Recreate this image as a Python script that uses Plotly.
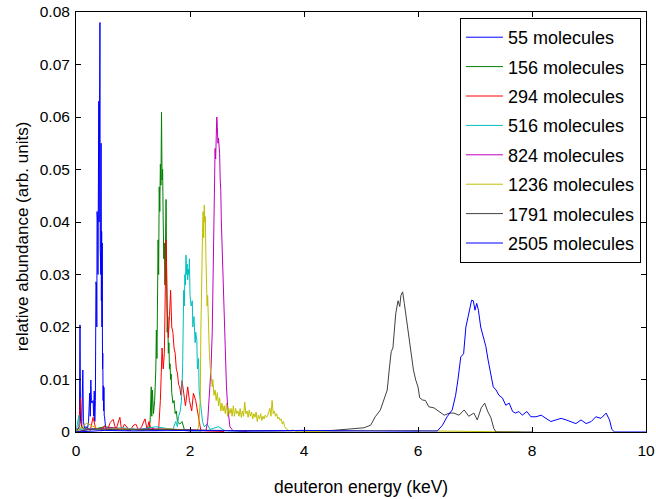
import plotly.graph_objects as go

# ---- data (energy in keV, relative abundance) ----
e_55 = [0.00, 0.03, 0.06, 0.07, 0.08, 0.10, 0.12, 0.13, 0.15, 0.18, 0.20, 0.22, 0.24, 0.25, 0.26, 0.27,
        0.28, 0.30, 0.31, 0.32, 0.33, 0.34, 0.350, 0.355, 0.360, 0.365, 0.370, 0.375, 0.380, 0.385, 0.390,
        0.395, 0.400, 0.405, 0.410, 0.415, 0.420, 0.425, 0.430, 0.435, 0.440, 0.445, 0.450, 0.455, 0.460,
        0.465, 0.470, 0.475, 0.480, 0.485, 0.490, 0.495, 0.50, 0.52, 0.55, 0.60, 0.70, 0.80, 0.90, 1.00,
        1.20, 1.40, 1.60, 1.80, 2.00, 2.50, 3.00, 4.00, 4.50, 5.00, 6.00]
a_55 = [0.0, 0.0005, 0.001, 0.0204, 0.002, 0.001, 0.0118, 0.002, 0.0008, 0.001, 0.0005, 0.002, 0.0074, 0.003,
        0.0099, 0.006, 0.0055, 0.0060, 0.003, 0.0078, 0.002, 0.0060, 0.0286, 0.0120, 0.0280, 0.0200, 0.0420,
        0.0220, 0.0400, 0.0300, 0.0500, 0.0350, 0.0630, 0.0400, 0.0550, 0.0450, 0.0780, 0.0350, 0.0500,
        0.0300, 0.0550, 0.0250, 0.0382, 0.0200, 0.0360, 0.0120, 0.0150, 0.0060, 0.0088, 0.0040, 0.0085,
        0.0030, 0.0030, 0.0008, 0.0005, 0.0006, 0.0004, 0.0007, 0.0003, 0.0005, 0.0004, 0.0003, 0.0005,
        0.0003, 0.0002, 0.0003, 0.0002, 0.0003, 0.0002, 0.0003, 0.0002]

e_156 = [0.00, 0.10, 0.30, 0.50, 0.80, 1.00, 1.20, 1.25, 1.28, 1.30, 1.32, 1.33, 1.34, 1.36, 1.38, 1.40,
         1.41, 1.42, 1.43, 1.44, 1.45, 1.46, 1.47, 1.48, 1.49, 1.50, 1.51, 1.52, 1.53, 1.54, 1.55, 1.56,
         1.57, 1.58, 1.59, 1.60, 1.61, 1.62, 1.63, 1.64, 1.65, 1.66, 1.67, 1.68, 1.70, 1.72, 1.74, 1.76,
         1.78, 1.82, 1.86, 1.90, 2.00, 2.20]
a_156 = [0.0, 0.0008, 0.0005, 0.0010, 0.0006, 0.0004, 0.0003, 0.0010, 0.0005, 0.0020, 0.0086, 0.0030, 0.0080,
         0.0035, 0.0060, 0.0120, 0.0194, 0.0140, 0.0250, 0.0366, 0.0300, 0.0467, 0.0420, 0.0510, 0.0470,
         0.0609, 0.0480, 0.0500, 0.0400, 0.0330, 0.0360, 0.0280, 0.0350, 0.0443, 0.0300, 0.0190, 0.0220,
         0.0150, 0.0170, 0.0120, 0.0130, 0.0100, 0.0110, 0.0075, 0.0055, 0.0060, 0.0035, 0.0040, 0.0020,
         0.0015, 0.0020, 0.0005, 0.0003, 0.0002]

e_294 = [0.00, 0.05, 0.08, 0.10, 0.15, 0.20, 0.25, 0.30, 0.35, 0.40, 0.45, 0.50, 0.55, 0.60, 0.65, 0.70,
         0.77, 0.80, 0.85, 0.90, 0.95, 1.00, 1.05, 1.10, 1.15, 1.21, 1.25, 1.28, 1.32, 1.35, 1.40, 1.45,
         1.48, 1.51, 1.53, 1.55, 1.58, 1.60, 1.62, 1.64, 1.66, 1.68, 1.70, 1.72, 1.74, 1.76, 1.78, 1.80,
         1.82, 1.84, 1.86, 1.89, 1.92, 1.96, 1.99, 2.03, 2.06, 2.10, 2.13, 2.16, 2.19, 2.30, 2.60]
a_294 = [0.0, 0.0010, 0.0065, 0.0010, 0.0004, 0.0008, 0.0003, 0.0028, 0.0004, 0.0006, 0.0002, 0.0012, 0.0003,
         0.0018, 0.0024, 0.0004, 0.0028, 0.0003, 0.0015, 0.0008, 0.0002, 0.0012, 0.0015, 0.0003, 0.0010,
         0.0025, 0.0004, 0.0020, 0.0003, 0.0008, 0.0002, 0.0006, 0.0060, 0.0160, 0.0120, 0.0150, 0.0366,
         0.0240, 0.0180, 0.0220, 0.0270, 0.0200, 0.0190, 0.0160, 0.0150, 0.0120, 0.0112, 0.0090, 0.0086,
         0.0070, 0.0098, 0.0074, 0.0050, 0.0086, 0.0060, 0.0040, 0.0074, 0.0060, 0.0040, 0.0020, 0.0003,
         0.0002, 0.0001]

e_516 = [0.00, 0.05, 0.07, 0.20, 0.50, 0.80, 1.10, 1.40, 1.70, 1.75, 1.78, 1.80, 1.83, 1.85, 1.87, 1.88,
         1.89, 1.90, 1.91, 1.92, 1.93, 1.94, 1.95, 1.96, 1.97, 1.98, 1.99, 2.00, 2.02, 2.04, 2.05, 2.07,
         2.09, 2.10, 2.12, 2.13, 2.15, 2.16, 2.18, 2.20, 2.22, 2.25, 2.30, 2.35, 2.50, 2.60, 3.00]
a_516 = [0.0, 0.0032, 0.0005, 0.0006, 0.0004, 0.0008, 0.0005, 0.0010, 0.0005, 0.0020, 0.0010, 0.0030,
         0.0040, 0.0060, 0.0120, 0.0200, 0.0270, 0.0240, 0.0300, 0.0280, 0.0337, 0.0300, 0.0320, 0.0290,
         0.0310, 0.0300, 0.0330, 0.0260, 0.0240, 0.0250, 0.0200, 0.0220, 0.0170, 0.0190, 0.0175, 0.0120,
         0.0140, 0.0080, 0.0060, 0.0040, 0.0020, 0.0010, 0.0015, 0.0005, 0.0010, 0.0003, 0.0001]

e_824 = [0.00, 0.20, 0.60, 1.00, 1.50, 2.00, 2.28, 2.31, 2.33, 2.35, 2.37, 2.39, 2.40, 2.42, 2.43, 2.44,
         2.45, 2.46, 2.47, 2.48, 2.49, 2.50, 2.52, 2.53, 2.54, 2.55, 2.56, 2.57, 2.58, 2.59, 2.60, 2.61,
         2.62, 2.63, 2.64, 2.66, 2.68, 2.70, 2.75, 3.00]
a_824 = [0.0, 0.0005, 0.0008, 0.0005, 0.0006, 0.0004, 0.0003, 0.0020, 0.0057, 0.0090, 0.0124, 0.0190,
         0.0280, 0.0380, 0.0460, 0.0540, 0.0520, 0.0580, 0.0600, 0.0580, 0.0550, 0.0560, 0.0530, 0.0480,
         0.0460, 0.0400, 0.0360, 0.0315, 0.0300, 0.0265, 0.0240, 0.0190, 0.0160, 0.0120, 0.0086, 0.0050,
         0.0030, 0.0010, 0.0003, 0.0001]

e_1236 = [0.00, 0.19, 0.40, 0.80, 1.20, 1.60, 2.00, 2.10, 2.15, 2.18, 2.19, 2.20, 2.21, 2.22, 2.23, 2.24,
          2.25, 2.26, 2.27, 2.28, 2.29, 2.30, 2.31, 2.32, 2.33, 2.34, 2.355, 2.37, 2.39, 2.40, 2.42, 2.44,
          2.46, 2.48, 2.50, 2.52, 2.54, 2.56, 2.58, 2.60, 2.62, 2.64, 2.66, 2.68, 2.70, 2.72, 2.74, 2.76,
          2.78, 2.80, 2.82, 2.84, 2.86, 2.88, 2.90, 2.92, 2.94, 2.96, 2.98, 3.00, 3.02, 3.04, 3.06, 3.08,
          3.10, 3.12, 3.14, 3.16, 3.18, 3.20, 3.22, 3.24, 3.26, 3.28, 3.30, 3.32, 3.34, 3.36, 3.38, 3.40,
          3.42, 3.44, 3.46, 3.48, 3.50, 3.52, 3.54, 3.56, 3.58, 3.60, 3.62, 3.64, 3.66, 3.68, 3.70, 3.75,
          3.80, 3.90, 4.50, 5.50, 7.80]
a_1236 = [0.0, 0.0017, 0.0005, 0.0006, 0.0004, 0.0006, 0.0003, 0.0003, 0.0008, 0.0060, 0.0190, 0.0280,
          0.0340, 0.0380, 0.0420, 0.0370, 0.0432, 0.0400, 0.0410, 0.0330, 0.0300, 0.0240, 0.0260, 0.0220,
          0.0170, 0.0150, 0.0124, 0.0100, 0.0086, 0.0100, 0.0070, 0.0080, 0.0060, 0.0075, 0.0050, 0.0065,
          0.0040, 0.0055, 0.0040, 0.0050, 0.0035, 0.0055, 0.0030, 0.0045, 0.0035, 0.0045, 0.0030, 0.0050,
          0.0030, 0.0045, 0.0035, 0.0040, 0.0030, 0.0045, 0.0028, 0.0040, 0.0030, 0.0057, 0.0035, 0.0040,
          0.0028, 0.0042, 0.0030, 0.0038, 0.0025, 0.0035, 0.0028, 0.0038, 0.0020, 0.0032, 0.0025, 0.0035,
          0.0022, 0.0030, 0.0025, 0.0032, 0.0028, 0.0030, 0.0036, 0.0045, 0.0030, 0.0060, 0.0035, 0.0040,
          0.0030, 0.0035, 0.0025, 0.0028, 0.0022, 0.0025, 0.0015, 0.0020, 0.0010, 0.0008, 0.0005, 0.0002,
          0.0004, 0.0000, 0.0002, 0.0003, 0.0000]

e_1791 = [0.00, 0.30, 0.80, 1.50, 2.50, 3.50, 4.50, 5.05, 5.17, 5.25, 5.34, 5.40, 5.46, 5.50, 5.53, 5.56,
          5.58, 5.61, 5.65, 5.68, 5.70, 5.73, 5.76, 5.80, 5.84, 5.88, 5.92, 5.96, 6.00, 6.03, 6.08, 6.13,
          6.19, 6.28, 6.37, 6.46, 6.55, 6.63, 6.72, 6.81, 6.89, 6.98, 7.04, 7.11, 7.17, 7.22, 7.28, 7.33,
          7.37, 8.00]
a_1791 = [0.0, 0.0006, 0.0004, 0.0005, 0.0003, 0.0002, 0.0003, 0.0008, 0.0013, 0.0029, 0.0042, 0.0061,
          0.0080, 0.0124, 0.0153, 0.0160, 0.0194, 0.0226, 0.0250, 0.0239, 0.0260, 0.0267, 0.0245, 0.0213,
          0.0188, 0.0150, 0.0118, 0.0099, 0.0086, 0.0065, 0.0061, 0.0060, 0.0048, 0.0046, 0.0039, 0.0032,
          0.0036, 0.0036, 0.0032, 0.0042, 0.0030, 0.0036, 0.0023, 0.0046, 0.0055, 0.0040, 0.0027, 0.0007,
          0.0000, 0.0000]

e_2505 = [0.00, 0.50, 1.00, 2.00, 3.00, 4.00, 5.00, 6.00, 6.34, 6.43, 6.51, 6.60, 6.66, 6.70, 6.75, 6.80,
          6.84, 6.88, 6.91, 6.94, 6.97, 7.00, 7.03, 7.06, 7.10, 7.15, 7.19, 7.23, 7.28, 7.32, 7.37, 7.42,
          7.48, 7.54, 7.60, 7.66, 7.71, 7.77, 7.83, 7.91, 7.98, 8.07, 8.16, 8.24, 8.33, 8.42, 8.51, 8.60,
          8.68, 8.77, 8.86, 8.95, 9.04, 9.12, 9.21, 9.30, 9.36, 9.40, 9.45, 10.0]
a_2505 = [0.0, 0.0003, 0.0002, 0.0003, 0.0002, 0.0003, 0.0002, 0.0003, 0.0002, 0.0013, 0.0029, 0.0042,
          0.0070, 0.0099, 0.0143, 0.0149, 0.0200, 0.0220, 0.0239, 0.0251, 0.0250, 0.0232, 0.0245, 0.0232,
          0.0200, 0.0180, 0.0163, 0.0137, 0.0112, 0.0086, 0.0080, 0.0070, 0.0065, 0.0051, 0.0055, 0.0039,
          0.0036, 0.0039, 0.0032, 0.0039, 0.0029, 0.0029, 0.0032, 0.0026, 0.0020, 0.0023, 0.0026, 0.0023,
          0.0020, 0.0016, 0.0023, 0.0016, 0.0020, 0.0029, 0.0026, 0.0036, 0.0023, 0.0005, 0.0000, 0.0000]

labels = ["55 molecules", "156 molecules", "294 molecules", "516 molecules",
          "824 molecules", "1236 molecules", "1791 molecules", "2505 molecules"]
colors = ["#0000FF", "#008000", "#FF0000", "#00BFBF", "#BF00BF", "#BFBF00", "#404040", "#0000FF"]
series = [(e_55, a_55), (e_156, a_156), (e_294, a_294), (e_516, a_516),
          (e_824, a_824), (e_1236, a_1236), (e_1791, a_1791), (e_2505, a_2505)]

x_ticks = [0, 2, 4, 6, 8, 10]
y_ticks = [0, 0.01, 0.02, 0.03, 0.04, 0.05, 0.06, 0.07, 0.08]
y_ticktext = ["0", "0.01", "0.02", "0.03", "0.04", "0.05", "0.06", "0.07", "0.08"]

fig = go.Figure()
for i, ((ex, ay), name, col) in enumerate(zip(series, labels, colors)):
    fig.add_trace(go.Scatter(x=ex, y=ay, mode="lines", name=name, legendgroup=str(i),
                             line=dict(color=col, width=1)))

font = "Liberation Sans, Arial, Helvetica, sans-serif"
axis_common = dict(showline=True, linecolor="black", linewidth=1, mirror="ticks",
                   ticks="inside", ticklen=5, tickcolor="black", showgrid=False,
                   zeroline=False, automargin=False, ticklabeloverflow="allow",
                   tickfont=dict(size=15.5, color="black", family=font))
fig.update_xaxes(range=[0, 10], tickvals=x_ticks, ticklabelstandoff=4, **axis_common)
fig.update_yaxes(range=[0, 0.08], tickvals=y_ticks, ticktext=y_ticktext, ticklabelstandoff=2, **axis_common)

fig.add_annotation(text="deuteron energy (keV)", xref="paper", yref="paper", x=0.5, y=-0.131,
                   xanchor="center", yanchor="middle", showarrow=False,
                   font=dict(size=17.5, color="black", family=font))
fig.add_annotation(text="relative abundance (arb. units)", xref="paper", yref="paper", x=-0.0947, y=0.466,
                   xanchor="center", yanchor="middle", showarrow=False, textangle=-90,
                   font=dict(size=17.0, color="black", family=font))

fig.update_layout(
    width=656, height=499,
    margin=dict(l=76, r=10, t=12, b=67),
    paper_bgcolor="white", plot_bgcolor="white",
    font=dict(family=font, size=16, color="black"),
    legend=dict(x=0.9912, y=0.9857, xanchor="right", yanchor="top",
                bordercolor="black", borderwidth=1, bgcolor="white", itemwidth=37,
                tracegroupgap=3, font=dict(size=18, color="black", family=font)),
)
# remove the browser's default 8 px page margin so the figure sits at the window origin
fig.write_html("out.html", config={"displayModeBar": False},
               post_script="document.body.style.margin='0';")
